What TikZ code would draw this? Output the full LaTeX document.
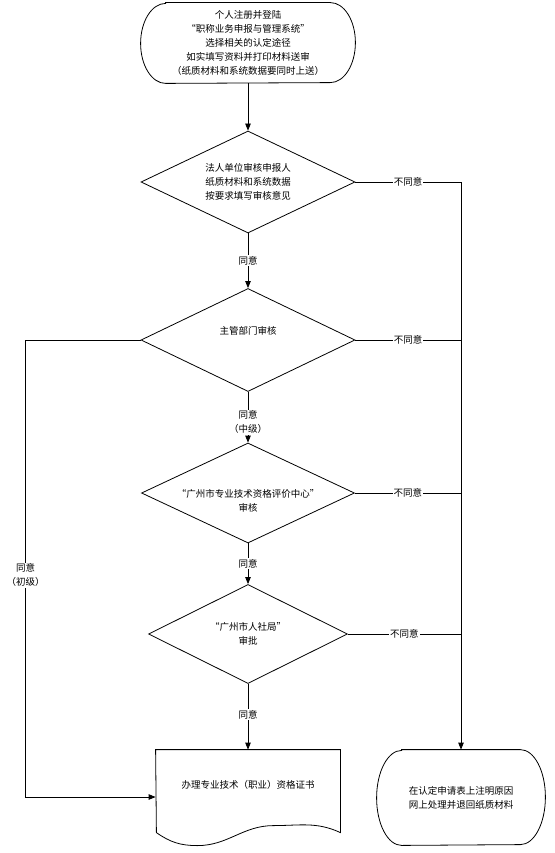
\documentclass[tikz,border=0pt]{standalone}
\usepackage{fontspec}
\setmainfont{Noto Sans CJK SC}
\usetikzlibrary{arrows.meta, positioning, shapes.geometric}

\begin{document}
\begin{tikzpicture}[x=1pt, y=-1pt, line width=0.8pt, >={Triangle[length=7pt,width=5.5pt]},
  every node/.style={align=center, font=\fontsize{9.5pt}{14pt}\selectfont},
  decision/.style={draw, diamond, aspect=2.1, inner sep=0pt},
  lbl/.style={fill=white, inner sep=1pt}]
\useasboundingbox (0,0) rectangle (554,853);

% start / end terminals
\node[minimum width=214pt, minimum height=80pt] (reg) at (248,43) {个人注册并登陆\\“职称业务申报与管理系统”\\选择相关的认定途径\\如实填写资料并打印材料送审\\（纸质材料和系统数据要同时上送）};
\draw ([xshift=25pt]reg.north west) -- ([xshift=-25pt]reg.north east)
  arc[start angle=90, end angle=-90, x radius=25pt, y radius=40pt]
  -- ([xshift=25pt]reg.south west)
  arc[start angle=270, end angle=90, x radius=25pt, y radius=40pt] -- cycle;

\node[minimum width=168pt, minimum height=95pt] (back) at (461,797.5) {在认定申请表上注明原因\\网上处理并退回纸质材料};
\draw ([xshift=25pt]back.north west) -- ([xshift=-25pt]back.north east)
  arc[start angle=90, end angle=-90, x radius=25pt, y radius=47.5pt]
  -- ([xshift=25pt]back.south west)
  arc[start angle=270, end angle=90, x radius=25pt, y radius=47.5pt] -- cycle;

% checks
\node[decision, minimum width=214pt, minimum height=102pt] (unit) at (248,182) {法人单位审核申报人\\纸质材料和系统数据\\按要求填写审核意见};
\node[decision, minimum width=214pt, minimum height=103pt] (dept) at (248,340) {主管部门审核\\\strut};
\node[decision, minimum width=213pt, minimum height=100pt, inner ysep=-7pt] (center) at (248,493) {\strut\\“广州市专业技术资格评价中心”\\审核};
\node[decision, minimum width=199pt, minimum height=99pt] (bureau) at (248,634) {“广州市人社局”\\审批};

% certificate (document shape)
\node[minimum width=184pt, minimum height=70pt] (cert) at (248,785) {办理专业技术（职业）资格证书};
\draw (cert.north west) -- (cert.north east) -- ++(0,83)
  to[out=155, in=0] ++(-67,-7) to[out=180, in=0] ++(-76,20)
  to[out=180, in=-35] ++(-41,-13) -- cycle;
\coordinate (certin) at ([yshift=-12pt]cert.west);

% main flow
\draw[->] (reg.south) -- (unit.north);
\draw[->] (unit.south) -- node[lbl] {同意} (dept.north);
\draw[->] (dept.south) -- node[lbl, pos=0.6] {同意\\（中级）} (center.north);
\draw[->] (center.south) -- node[lbl] {同意} (bureau.north);
\draw[->] (bureau.south) -- node[lbl, pos=0.47] {同意} (cert.north);

% rejected
\draw[->] (unit.east) -- node[lbl] {不同意} (unit.east -| back.north) -- (back.north);
\draw (dept.east) -- node[lbl] {不同意} (dept.east -| back.north);
\draw (center.east) -- node[lbl] {不同意} (center.east -| back.north);
\draw (bureau.east) -- node[lbl] {不同意} (bureau.east -| back.north);

% junior level
\draw[->] (dept.west) -- ++(-115,0) coordinate (lft) -- node[lbl, pos=0.515] {同意\\（初级）} (lft |- certin) -- (certin);
\end{tikzpicture}
\end{document}
